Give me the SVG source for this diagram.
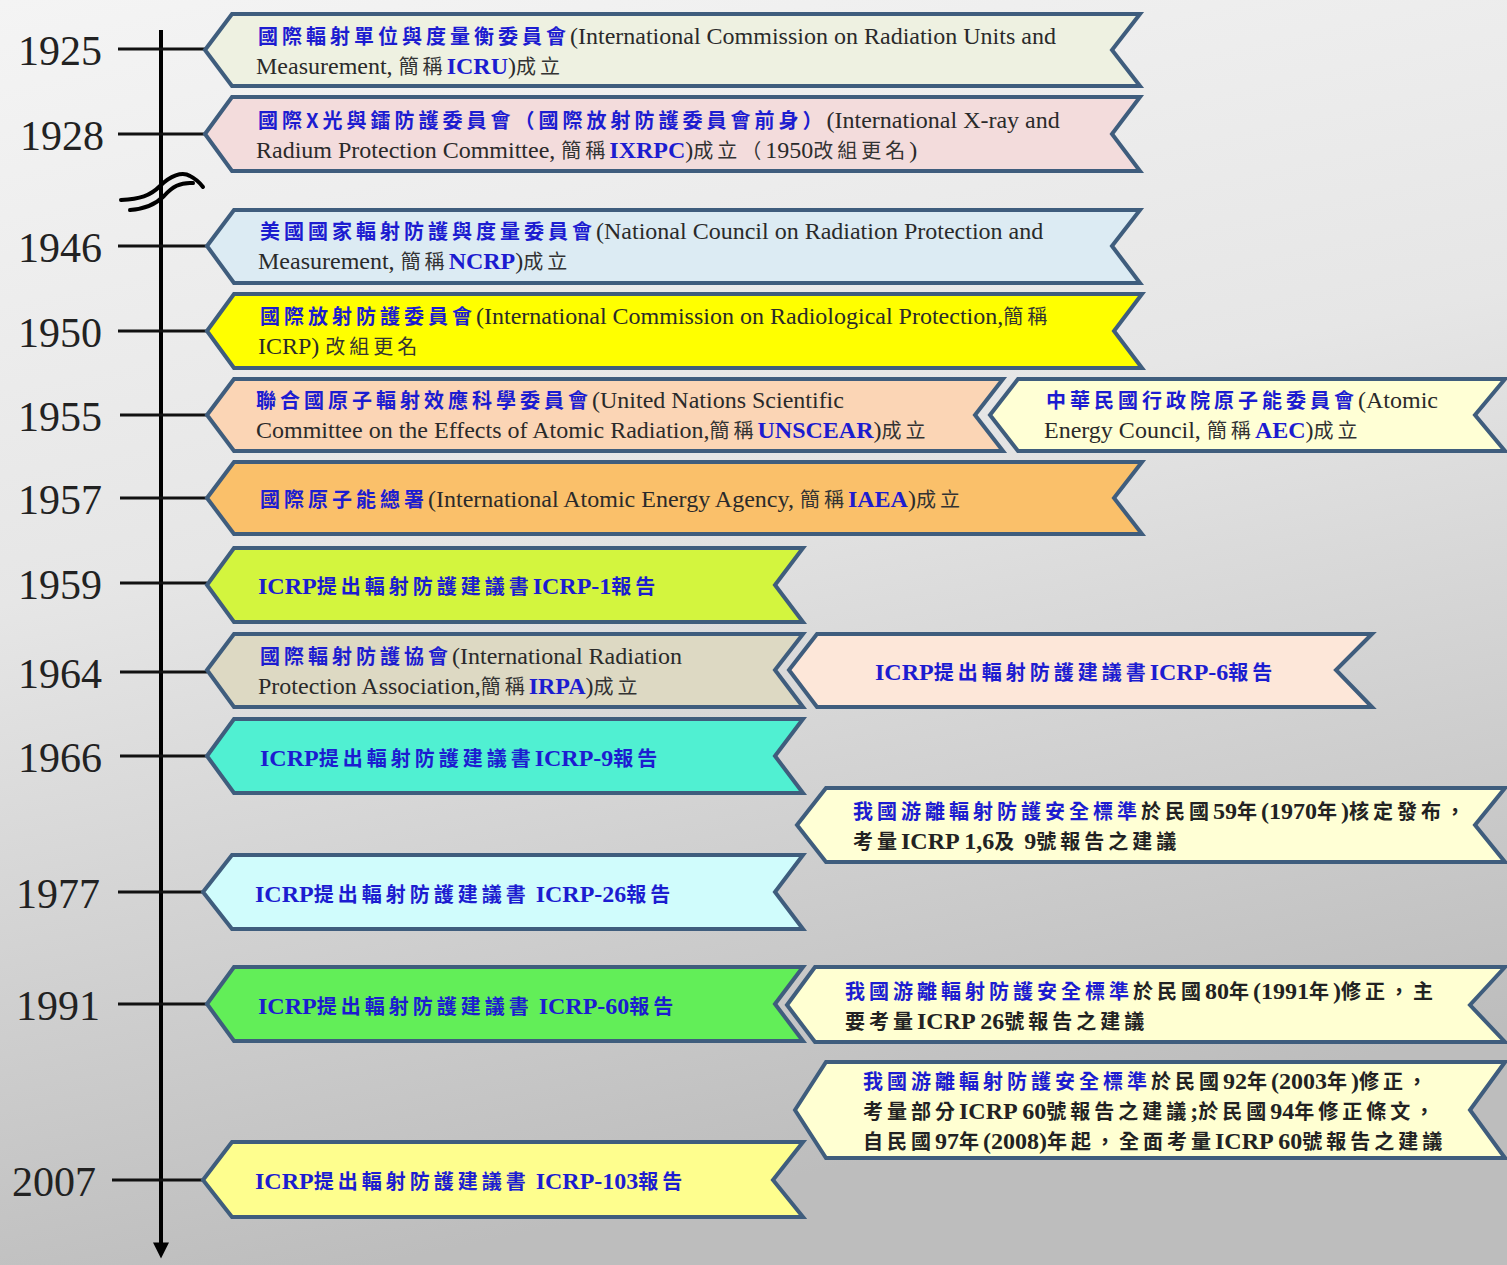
<svg xmlns="http://www.w3.org/2000/svg" width="1507" height="1265" viewBox="0 0 1507 1265">
<defs>
<linearGradient id="bg" x1="0" y1="0" x2="0.25" y2="1">
<stop offset="0" stop-color="#f4f4f4"/>
<stop offset="0.45" stop-color="#e6e6e6"/>
<stop offset="1" stop-color="#bdbdbd"/>
</linearGradient>
<marker id="arr" viewBox="0 0 10 10" refX="1" refY="5" markerWidth="4.5" markerHeight="4" orient="auto" markerUnits="strokeWidth">
<path d="M0,0 L10,5 L0,10 Z" fill="#000"/>
</marker>
<style>
.box{stroke:#3f5d7d;stroke-width:4;stroke-linejoin:miter}
.t{font-family:"Liberation Serif","Noto Sans CJK TC",serif;font-size:24px;fill:#2a2a2a}
.yr{font-family:"Liberation Serif",serif;font-size:42px;fill:#222}
.bz{font-family:"Noto Sans CJK TC","Liberation Serif",sans-serif;font-size:20px;font-weight:bold;fill:#1c1cd0;letter-spacing:4px}
.kz{font-family:"Noto Sans CJK TC","Liberation Serif",sans-serif;font-size:20px;fill:#333;letter-spacing:4px}
.kb{font-family:"Noto Sans CJK TC","Liberation Serif",sans-serif;font-size:20px;font-weight:bold;fill:#222;letter-spacing:4px}
.be{font-weight:bold;fill:#1c1cd0}
.ke{font-weight:bold;fill:#222}
.tick{stroke:#111;stroke-width:3}
</style>
</defs>
<rect x="0" y="0" width="1507" height="1265" fill="url(#bg)"/>

<g id="connectors">
<line x1="161" y1="30" x2="161" y2="1244" stroke="#000" stroke-width="4" marker-end="url(#arr)"/>
<line class="tick" x1="118" y1="49" x2="205" y2="49"/>
<line class="tick" x1="118" y1="134" x2="205" y2="134"/>
<line class="tick" x1="118" y1="246" x2="207" y2="246"/>
<line class="tick" x1="118" y1="331" x2="207" y2="331"/>
<line class="tick" x1="120" y1="415" x2="207" y2="415"/>
<line class="tick" x1="120" y1="498" x2="207" y2="498"/>
<line class="tick" x1="120" y1="583" x2="207" y2="583"/>
<line class="tick" x1="120" y1="672" x2="207" y2="672"/>
<line class="tick" x1="120" y1="756" x2="207" y2="756"/>
<line class="tick" x1="118" y1="892" x2="203" y2="892"/>
<line class="tick" x1="118" y1="1004" x2="207" y2="1004"/>
<line class="tick" x1="112" y1="1180" x2="203" y2="1180"/>
<path d="M121,200 C140,199 150,196 160,186 C170,176 182,171 190,176 C196,179 200,183 203,187" fill="none" stroke="#000" stroke-width="4" stroke-linecap="round"/>
<path d="M130,210 C145,209 155,205 164,196 C172,187 180,182 193,183" fill="none" stroke="#000" stroke-width="4" stroke-linecap="round"/>
</g>

<g id="years">
<text class="yr" x="18" y="65">1925</text>
<text class="yr" x="20" y="150">1928</text>
<text class="yr" x="18" y="262">1946</text>
<text class="yr" x="18" y="347">1950</text>
<text class="yr" x="18" y="431">1955</text>
<text class="yr" x="18" y="514">1957</text>
<text class="yr" x="18" y="599">1959</text>
<text class="yr" x="18" y="688">1964</text>
<text class="yr" x="18" y="772">1966</text>
<text class="yr" x="16" y="908">1977</text>
<text class="yr" x="16" y="1020">1991</text>
<text class="yr" x="12" y="1196">2007</text>
</g>

<g id="n1925">
<path class="box" fill="#eef1e1" d="M205,50 L232,14 L1140,14 L1112,50 L1140,86 L232,86 Z"/>
<text class="t" x="258" y="44"><tspan class="bz">國際輻射單位與度量衡委員會</tspan>(International Commission on Radiation Units and</text>
<text class="t" x="256" y="74">Measurement, <tspan class="kz">簡稱</tspan><tspan class="be">ICRU</tspan>)<tspan class="kz">成立</tspan></text>
</g>

<g id="n1928">
<path class="box" fill="#f3dcdc" d="M205,134 L232,97 L1140,97 L1112,134 L1140,171 L232,171 Z"/>
<text class="t" x="258" y="128"><tspan class="bz">國際X光與鐳防護委員會（國際放射防護委員會前身）</tspan>(International X-ray  and</text>
<text class="t" x="256" y="158">Radium Protection Committee, <tspan class="kz">簡稱</tspan><tspan class="be">IXRPC</tspan>)<tspan class="kz">成立（</tspan>1950<tspan class="kz">改組更名</tspan>)</text>
</g>

<g id="n1946">
<path class="box" fill="#dcebf3" d="M207,246 L234,210 L1140,210 L1112,246 L1140,283 L234,283 Z"/>
<text class="t" x="260" y="239"><tspan class="bz">美國國家輻射防護與度量委員會</tspan>(National Council on Radiation Protection and</text>
<text class="t" x="258" y="269">Measurement, <tspan class="kz">簡稱</tspan><tspan class="be">NCRP</tspan>)<tspan class="kz">成立</tspan></text>
</g>

<g id="n1950">
<path class="box" fill="#ffff00" d="M207,331 L234,294 L1142,294 L1114,331 L1142,368 L234,368 Z"/>
<text class="t" x="260" y="324"><tspan class="bz">國際放射防護委員會</tspan>(International Commission on Radiological Protection,<tspan class="kz">簡稱</tspan></text>
<text class="t" x="258" y="354">ICRP) <tspan class="kz">改組更名</tspan></text>
</g>

<g id="n1955a">
<path class="box" fill="#fbd5b5" d="M207,415 L234,379 L1003,379 L975,415 L1003,451 L234,451 Z"/>
<text class="t" x="256" y="408"><tspan class="bz">聯合國原子輻射效應科學委員會</tspan>(United Nations Scientific</text>
<text class="t" x="256" y="438">Committee on the Effects of Atomic Radiation,<tspan class="kz">簡稱</tspan><tspan class="be">UNSCEAR</tspan>)<tspan class="kz">成立</tspan></text>
</g>

<g id="n1955b">
<path class="box" fill="#ffffd5" d="M990,415 L1018,379 L1505,379 L1475,415 L1505,451 L1018,451 Z"/>
<text class="t" x="1046" y="408"><tspan class="bz">中華民國行政院原子能委員會</tspan>(Atomic</text>
<text class="t" x="1044" y="438">Energy Council, <tspan class="kz">簡稱</tspan><tspan class="be">AEC</tspan>)<tspan class="kz">成立</tspan></text>
</g>

<g id="n1957">
<path class="box" fill="#fac06a" d="M207,498 L234,462 L1142,462 L1114,498 L1142,534 L234,534 Z"/>
<text class="t" x="260" y="507"><tspan class="bz">國際原子能總署</tspan>(International Atomic Energy Agency,  <tspan class="kz">簡稱</tspan><tspan class="be">IAEA</tspan>)<tspan class="kz">成立</tspan></text>
</g>

<g id="n1959">
<path class="box" fill="#d3f53e" d="M207,585 L234,548 L803,548 L775,585 L803,622 L234,622 Z"/>
<text class="t" x="258" y="594"><tspan class="be">ICRP</tspan><tspan class="bz">提出輻射防護建議書</tspan><tspan class="be">ICRP-1</tspan><tspan class="bz">報告</tspan></text>
</g>

<g id="n1964a">
<path class="box" fill="#ddd9c3" d="M207,670 L234,634 L803,634 L775,670 L803,707 L234,707 Z"/>
<text class="t" x="260" y="664"><tspan class="bz">國際輻射防護協會</tspan>(International Radiation</text>
<text class="t" x="258" y="694">Protection Association,<tspan class="kz">簡稱</tspan><tspan class="be">IRPA</tspan>)<tspan class="kz">成立</tspan></text>
</g>

<g id="n1964b">
<path class="box" fill="#fde7d9" d="M789,670 L817,634 L1372,634 L1336,670 L1372,707 L817,707 Z"/>
<text class="t" x="875" y="680"><tspan class="be">ICRP</tspan><tspan class="bz">提出輻射防護建議書</tspan><tspan class="be">ICRP-6</tspan><tspan class="bz">報告</tspan></text>
</g>

<g id="n1966">
<path class="box" fill="#50f0d2" d="M207,756 L234,719 L803,719 L775,756 L803,793 L234,793 Z"/>
<text class="t" x="260" y="766"><tspan class="be">ICRP</tspan><tspan class="bz">提出輻射防護建議書</tspan><tspan class="be">ICRP-9</tspan><tspan class="bz">報告</tspan></text>
</g>

<g id="n1970">
<path class="box" fill="#ffffd5" d="M797,825 L826,788 L1505,788 L1475,825 L1505,862 L826,862 Z"/>
<text class="t" x="853" y="819"><tspan class="bz">我國游離輻射防護安全標準</tspan><tspan class="kb">於民國</tspan><tspan class="ke">59</tspan><tspan class="kb">年</tspan><tspan class="ke">(1970</tspan><tspan class="kb">年</tspan><tspan class="ke">)</tspan><tspan class="kb">核定發布，</tspan></text>
<text class="t" x="853" y="849"><tspan class="kb">考量</tspan><tspan class="ke">ICRP 1,6</tspan><tspan class="kb">及</tspan><tspan class="ke"> 9</tspan><tspan class="kb">號報告之建議</tspan></text>
</g>

<g id="n1977">
<path class="box" fill="#d0fcfc" d="M203,892 L232,855 L803,855 L775,892 L803,929 L232,929 Z"/>
<text class="t" x="255" y="902"><tspan class="be">ICRP</tspan><tspan class="bz">提出輻射防護建議書</tspan><tspan class="be"> ICRP-26</tspan><tspan class="bz">報告</tspan></text>
</g>

<g id="n1991a">
<path class="box" fill="#62ee58" d="M207,1004 L234,967 L803,967 L775,1004 L803,1041 L234,1041 Z"/>
<text class="t" x="258" y="1014"><tspan class="be">ICRP</tspan><tspan class="bz">提出輻射防護建議書</tspan><tspan class="be"> ICRP-60</tspan><tspan class="bz">報告</tspan></text>
</g>

<g id="n1991b">
<path class="box" fill="#ffffd2" d="M787,1005 L815,967 L1505,967 L1470,1005 L1505,1042 L815,1042 Z"/>
<text class="t" x="845" y="999"><tspan class="bz">我國游離輻射防護安全標準</tspan><tspan class="kb">於民國</tspan><tspan class="ke">80</tspan><tspan class="kb">年</tspan><tspan class="ke">(1991</tspan><tspan class="kb">年</tspan><tspan class="ke">)</tspan><tspan class="kb">修正，主</tspan></text>
<text class="t" x="845" y="1029"><tspan class="kb">要考量</tspan><tspan class="ke">ICRP 26</tspan><tspan class="kb">號報告之建議</tspan></text>
</g>

<g id="n2003">
<path class="box" fill="#ffffd2" d="M795,1110 L826,1062 L1505,1062 L1470,1110 L1505,1158 L826,1158 Z"/>
<text class="t" x="863" y="1089"><tspan class="bz">我國游離輻射防護安全標準</tspan><tspan class="kb">於民國</tspan><tspan class="ke">92</tspan><tspan class="kb">年</tspan><tspan class="ke">(2003</tspan><tspan class="kb">年</tspan><tspan class="ke">)</tspan><tspan class="kb">修正，</tspan></text>
<text class="t" x="863" y="1119"><tspan class="kb">考量部分</tspan><tspan class="ke">ICRP 60</tspan><tspan class="kb">號報告之建議</tspan><tspan class="ke">;</tspan><tspan class="kb">於民國</tspan><tspan class="ke">94</tspan><tspan class="kb">年修正條文，</tspan></text>
<text class="t" x="863" y="1149"><tspan class="kb">自民國</tspan><tspan class="ke">97</tspan><tspan class="kb">年</tspan><tspan class="ke">(2008)</tspan><tspan class="kb">年起，全面考量</tspan><tspan class="ke">ICRP 60</tspan><tspan class="kb">號報告之建議</tspan></text>
</g>

<g id="n2007">
<path class="box" fill="#fefe8e" d="M203,1180 L232,1142 L803,1142 L773,1180 L803,1217 L232,1217 Z"/>
<text class="t" x="255" y="1189"><tspan class="be">ICRP</tspan><tspan class="bz">提出輻射防護建議書</tspan><tspan class="be"> ICRP-103</tspan><tspan class="bz">報告</tspan></text>
</g>
</svg>
